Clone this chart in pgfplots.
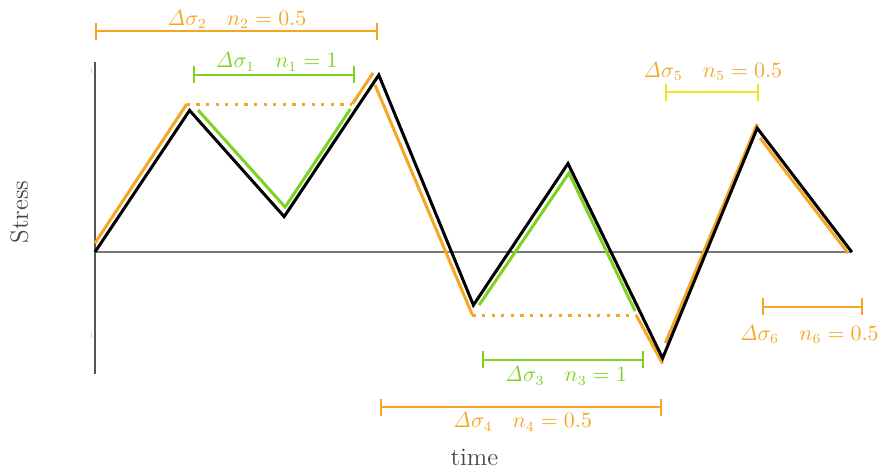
\documentclass[border=0pt]{standalone}
\usepackage{pgfplots}
\pgfplotsset{compat=1.18}
\usetikzlibrary{arrows.meta}

\definecolor{rfOrange}{RGB}{245,166,35}
\definecolor{rfGreen}{RGB}{126,211,33}
\definecolor{rfYellow}{RGB}{245,225,30}
\definecolor{axisGray}{RGB}{85,85,85}
\definecolor{labelGray}{RGB}{70,70,70}

\newcommand{\rng}[2]{$\mathit{\Delta}\sigma_{#1}\hspace{0.95em}n_{#1}=#2$}

\tikzset{
  rangebar/.style={line width=1pt, arrows={Bar[width=8.5pt]-Bar[width=8.5pt]}},
  cyc/.style={line width=1.5pt, line cap=butt, line join=miter},
  rlabel/.style={anchor=base, font=\fontsize{10.6}{13}\selectfont},
}

\begin{document}
\begin{tikzpicture}
\begin{axis}[
  x=47.3pt, y=17.7pt,
  xmin=-1.004, xmax=8.298, ymin=-6.243, ymax=7.119,
  hide axis, clip=false,
]
% axes
\addplot[draw=axisGray, line width=0.75pt] coordinates {(0,5.37) (0,-3.45)};
\addplot[draw=axisGray!80, line width=0.6pt] coordinates {(0,0) (8,0)};
\addplot[draw=gray!35, line width=0.5pt] coordinates {(-0.035,5.20) (-0.035,5.05)};
\addplot[draw=gray!35, line width=0.5pt] coordinates {(-0.035,-2.28) (-0.035,-2.42)};

% half cycles (orange)
\addplot[rfOrange, cyc] coordinates {(0,0.25) (0.97,4.18)};
\addplot[rfOrange, cyc, dash pattern=on 1.6pt off 3.2pt] coordinates {(0.97,4.18) (2.72,4.18)};
\addplot[rfOrange, cyc] coordinates {(2.72,4.18) (2.94,5.06)};
\addplot[rfOrange, cyc] coordinates {(2.96,4.72) (3.99,-1.78)};
\addplot[rfOrange, cyc, dash pattern=on 1.6pt off 3.2pt] coordinates {(3.99,-1.78) (5.72,-1.78)};
\addplot[rfOrange, cyc] coordinates {(5.72,-1.78) (6.0,-3.15)};
\addplot[rfOrange, cyc] coordinates {(6.03,-2.57) (7.0,3.62)};
\addplot[rfOrange, cyc] coordinates {(7.03,3.22) (7.96,-0.03)};

% full cycles (green)
\addplot[rfGreen, cyc] coordinates {(1.09,4.01) (2.01,1.27) (2.70,4.04)};
\addplot[rfGreen, cyc] coordinates {(4.06,-1.50) (5.01,2.23) (5.71,-1.67)};

% stress history
\addplot[black, cyc] coordinates {
  (0,0) (1,4) (2,1) (3,5) (4,-1.5) (5,2.5) (6,-3) (7,3.5) (8,0)
};

% ranges
\addplot[rfOrange, rangebar] coordinates {(0,6.24) (2.99,6.24)};
\addplot[rfGreen, rangebar] coordinates {(1.04,5.01) (2.75,5.01)};
\addplot[rfYellow, rangebar] coordinates {(6.03,4.52) (7.02,4.52)};
\addplot[rfGreen, rangebar] coordinates {(4.09,-3.05) (5.80,-3.05)};
\addplot[rfOrange, rangebar] coordinates {(3.01,-4.38) (5.99,-4.38)};
\addplot[rfOrange, rangebar] coordinates {(7.05,-1.55) (8.12,-1.55)};

% range labels
\node[rlabel, text=rfOrange] at (axis cs:1.50,6.41) {\rng{2}{0.5}};
\node[rlabel, text=rfGreen] at (axis cs:1.92,5.20) {\rng{1}{1}};
\node[rlabel, text=rfOrange] at (axis cs:6.53,4.94) {\rng{5}{0.5}};
\node[rlabel, text=rfGreen] at (axis cs:4.98,-3.67) {\rng{3}{1}};
\node[rlabel, text=rfOrange] at (axis cs:4.52,-4.97) {\rng{4}{0.5}};
\node[rlabel, text=rfOrange] at (axis cs:7.55,-2.49) {\rng{6}{0.5}};

% axis titles
\node[anchor=base, text=labelGray, font=\fontsize{12.5}{15}\selectfont] at (axis cs:4.01,-6.02) {time};
\node[anchor=base, rotate=90, text=labelGray, font=\fontsize{12.5}{15}\selectfont] at (axis cs:-0.71,1.13) {Stress};
\end{axis}
\pgfresetboundingbox
\useasboundingbox (current axis.south west) rectangle (current axis.north east);
\end{tikzpicture}
\end{document}
